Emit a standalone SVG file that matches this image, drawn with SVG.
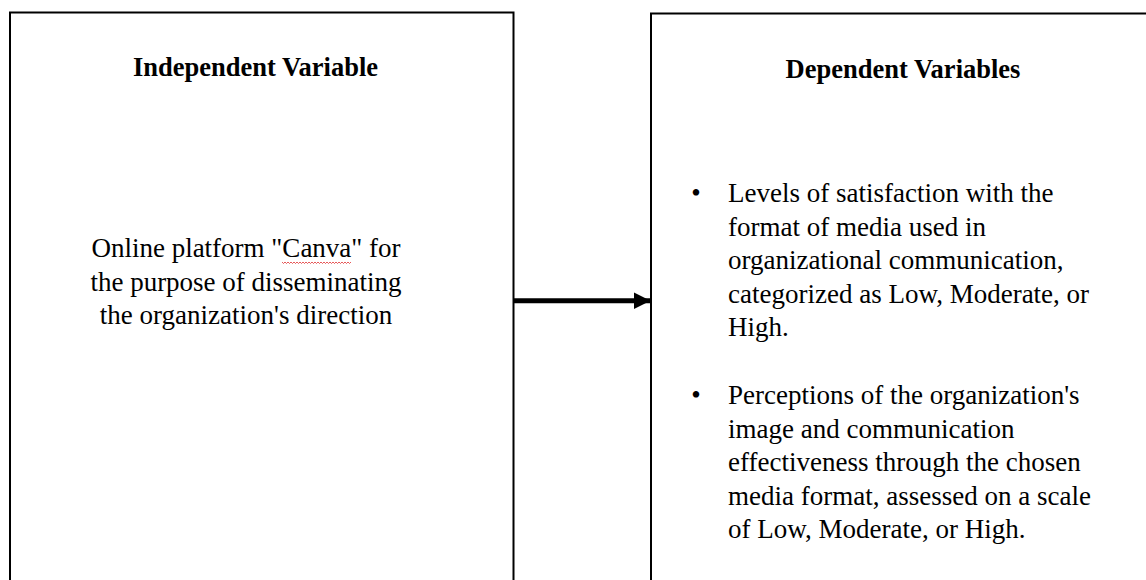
<svg xmlns="http://www.w3.org/2000/svg" width="1146" height="580" viewBox="0 0 1146 580">
<defs>
<style>
.box{fill:#fff;stroke:#000;stroke-width:2}
.title{font-family:"Liberation Serif","Times New Roman",serif;font-weight:bold;font-size:26.5px;fill:#000;text-anchor:middle}
.body{font-family:"Liberation Serif","Times New Roman",serif;font-size:27px;fill:#000}
.mid{text-anchor:middle}
.conn{stroke:#000;stroke-width:5;fill:none}
</style>
<marker id="ah" viewBox="0 0 17 17" refX="17" refY="8.5" markerWidth="17" markerHeight="17" markerUnits="userSpaceOnUse" orient="auto">
<path d="M0,0 L17,8.5 L0,17 Z" fill="#000"/>
</marker>
</defs>
<rect width="1146" height="580" fill="#fff"/>
<g id="independent">
<rect class="box" x="10" y="12.5" width="503.5" height="600"/>
<text class="title" x="255.5" y="76">Independent Variable</text>
<text class="body mid" x="246" y="257">Online platform "Canva" for</text>
<text class="body mid" x="246" y="290.5">the purpose of disseminating</text>
<text class="body mid" x="246" y="324">the organization's direction</text>
<path d="M282,262 l1.5,1.5 l1.5,-1.5 l1.5,1.5 l1.5,-1.5 l1.5,1.5 l1.5,-1.5 l1.5,1.5 l1.5,-1.5 l1.5,1.5 l1.5,-1.5 l1.5,1.5 l1.5,-1.5 l1.5,1.5 l1.5,-1.5 l1.5,1.5 l1.5,-1.5 l1.5,1.5 l1.5,-1.5 l1.5,1.5 l1.5,-1.5 l1.5,1.5 l1.5,-1.5 l1.5,1.5 l1.5,-1.5 l1.5,1.5 l1.5,-1.5 l1.5,1.5 l1.5,-1.5 l1.5,1.5 l1.5,-1.5 l1.5,1.5 l1.5,-1.5 l1.5,1.5 l1.5,-1.5 l1.5,1.5 l1.5,-1.5 l1.5,1.5 l1.5,-1.5 l1.5,1.5 l1.5,-1.5 l1.5,1.5 l1.5,-1.5 l1.5,1.5 l1.5,-1.5 l1.5,1.5 l1.5,-1.5" fill="none" stroke="#e03030" stroke-width="0.8"/>
</g>
<g id="dependent">
<rect class="box" x="651" y="13.5" width="600" height="600"/>
<text class="title" x="903" y="78">Dependent Variables</text>
<text class="body mid" x="696" y="202">•</text>
<text class="body" x="728" y="202">Levels of satisfaction with the</text>
<text class="body" x="728" y="235.5">format of media used in</text>
<text class="body" x="728" y="269">organizational communication,</text>
<text class="body" x="728" y="302.5">categorized as Low, Moderate, or</text>
<text class="body" x="728" y="336">High.</text>
<text class="body mid" x="696" y="404">•</text>
<text class="body" x="728" y="404">Perceptions of the organization's</text>
<text class="body" x="728" y="437.5">image and communication</text>
<text class="body" x="728" y="471">effectiveness through the chosen</text>
<text class="body" x="728" y="504.5">media format, assessed on a scale</text>
<text class="body" x="728" y="538">of Low, Moderate, or High.</text>
</g>
<g id="connectors">
<line class="conn" x1="514" y1="300.7" x2="650.5" y2="300.7" marker-end="url(#ah)"/>
</g>
</svg>
